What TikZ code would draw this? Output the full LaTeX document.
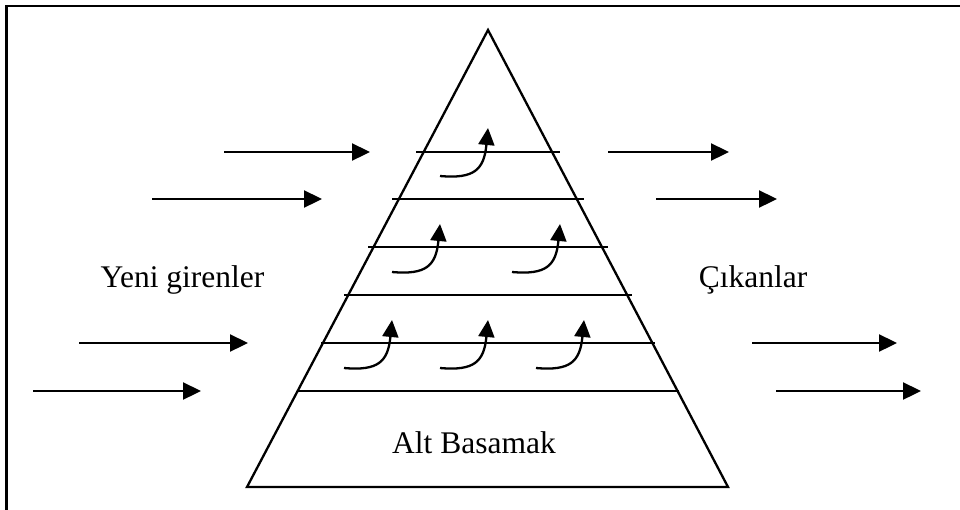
\documentclass[tikz,border=0pt]{standalone}
\usepackage{fontspec}
\setmainfont{Liberation Serif}
\usetikzlibrary{arrows.meta}
\begin{document}
\begin{tikzpicture}[x=1pt,y=-1pt,
  ln/.style={line width=2.3pt},
  flow/.style={line width=2.3pt,-{Triangle[length=18pt,width=17pt]}},
  rise/.style={line width=2.3pt,-{Triangle[length=17pt,width=16pt]}},
  lbl/.style={font=\fontsize{31.5}{36}\selectfont,anchor=base,inner sep=0pt}]
\useasboundingbox (0,0) rectangle (960,509);
% frame
\draw[line width=2.3pt] (6.5,540) -- (6.5,6) -- (990,6);
% pyramid
\coordinate (apex) at (488,30);
\coordinate (bl) at (247,487);
\coordinate (br) at (728,487);
\draw[ln,line join=miter] (apex) -- (br) -- (bl) -- cycle;
% level lines
\foreach \y/\xa/\xb [count=\i] in {152/416/560, 199/392/584, 247/368/608, 295/344/632, 343/321/655, 391/298/679}{
  \coordinate (l\i a) at (\xa,\y);
  \coordinate (l\i b) at (\xb,\y);
  \draw[ln] (l\i a) -- (l\i b);
}
% incoming arrows
\foreach \y/\xa/\xb [count=\i] in {152/224/370, 199/152/322, 343/79/248, 391/33/201}{
  \coordinate (ia\i) at (\xa,\y);
  \coordinate (ib\i) at (\xb,\y);
  \draw[flow] (ia\i) -- (ib\i);
}
% outgoing arrows
\foreach \y/\xa/\xb [count=\i] in {152/608/729, 199/656/777, 343/752/897, 391/776/921}{
  \coordinate (oa\i) at (\xa,\y);
  \coordinate (ob\i) at (\xb,\y);
  \draw[flow] (oa\i) -- (ob\i);
}
% rising arrows
\foreach \x/\y [count=\i] in {440/176, 392/272, 512/272, 344/368, 440/368, 536/368}{
  \coordinate (rs\i) at (\x,\y);
  \coordinate (rt\i) at (\x+48,\y-48);
  \draw[rise] (rs\i) .. controls ([xshift=34pt,yshift=-3pt]rs\i) and ([xshift=-4pt,yshift=-42pt]rt\i) .. (rt\i);
}
% labels
\node[lbl] (yeni) at (182.5,287) {Yeni girenler};
\node[lbl] (cik) at (753,287) {Çıkanlar};
\node[lbl] (alt) at (474,453) {Alt Basamak};
\end{tikzpicture}
\end{document}
